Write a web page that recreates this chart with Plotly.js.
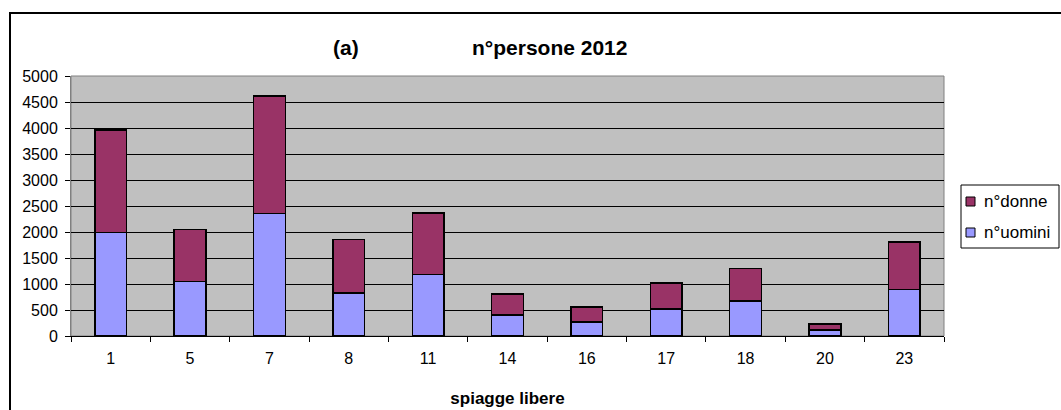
<!DOCTYPE html>
<html>
<head>
<meta charset="utf-8">
<script src="https://cdn.plot.ly/plotly-3.0.1.min.js"></script>
<style>
html,body{margin:0;padding:0;background:#fff;overflow:hidden;}
#chart{width:1061px;height:410px;}
#frame{position:absolute;left:9px;top:12px;width:1100px;height:500px;border:2px solid #000;pointer-events:none;}
</style>
</head>
<body>
<div id="chart"></div>
<div id="frame"></div>
<script>
const categories = ['1','5','7','8','11','14','16','17','18','20','23'];
const uomini = [1990, 1050, 2360, 830, 1180, 400, 270, 520, 670, 115, 890];
const donne  = [1970, 1000, 2260, 1030, 1190, 410, 290, 500, 630, 120, 920];
const seriesNames = ['n°uomini', 'n°donne'];
const seriesColors = ['#9999FF', '#993366'];
const titleLabel = '(a)';
const titleText = 'n°persone 2012';
const xTitle = 'spiagge libere';

const FONT = '"Liberation Sans", Arial, sans-serif';

const traces = [
  {type:'bar', name:seriesNames[0], x:categories, y:uomini,
   marker:{color:seriesColors[0], line:{color:'#000', width:1.5}}},
  {type:'bar', name:seriesNames[1], x:categories, y:donne,
   marker:{color:seriesColors[1], line:{color:'#000', width:1.5}}}
];

// legend drawn as a box (pixel positions converted to paper coordinates)
const L = 71, W = 873, B = 336, H = 260;
const px = v => (v - L) / W;
const py = v => (B - v) / H;
const legendItems = [
  {name:seriesNames[1], color:seriesColors[1], cy:201.5},
  {name:seriesNames[0], color:seriesColors[0], cy:232.5}
];
const shapes = [
  {type:'rect', xref:'paper', yref:'paper', x0:0, x1:1, y0:0, y1:1,
   line:{color:'#808080', width:1}, layer:'below'},
  {type:'rect', xref:'paper', yref:'paper', x0:px(961), x1:px(1059), y0:py(248), y1:py(185),
   line:{color:'#000', width:1}, fillcolor:'#fff'}
];
const annotations = [
  {text:'<b>'+titleLabel+'</b>', xref:'paper', yref:'paper', x:0.315, y:1.108,
   showarrow:false, xanchor:'center', yanchor:'middle', font:{family:FONT, size:21}},
  {text:'<b>'+titleText+'</b>', xref:'paper', yref:'paper', x:0.548, y:1.108,
   showarrow:false, xanchor:'center', yanchor:'middle', font:{family:FONT, size:21}}
];
legendItems.forEach(it => {
  shapes.push({type:'rect', xref:'paper', yref:'paper',
    x0:px(966), x1:px(975), y0:py(it.cy+4.5), y1:py(it.cy-4.5),
    line:{color:'#000', width:1}, fillcolor:it.color});
  annotations.push({text:it.name, xref:'paper', yref:'paper', x:px(982), y:py(it.cy),
    showarrow:false, xanchor:'left', yanchor:'middle',
    font:{family:FONT, size:17, color:'#000'}});
});

const layout = {
  width:1061, height:410,
  margin:{l:71, r:117, t:76, b:74, autoexpand:false},
  paper_bgcolor:'rgba(0,0,0,0)',
  plot_bgcolor:'#C0C0C0',
  barmode:'stack',
  bargap:0.6,
  font:{family:FONT, size:16, color:'#000'},
  showlegend:false,
  xaxis:{type:'category', tickson:'boundaries', ticks:'outside', ticklen:5,
    tickcolor:'#000', showline:true, linecolor:'#000', linewidth:1,
    showgrid:false, ticklabelstandoff:8,
    tickfont:{family:FONT, size:16},
    title:{text:'<b>'+xTitle+'</b>', font:{family:FONT, size:17}, standoff:25}},
  yaxis:{range:[0,5000], dtick:500, ticks:'outside', ticklen:5, tickcolor:'#000',
    showline:true, linecolor:'#808080', linewidth:1,
    showgrid:true, gridcolor:'#000', gridwidth:1, zeroline:false,
    ticklabelstandoff:4, tickfont:{family:FONT, size:16}},
  annotations:annotations,
  shapes:shapes
};

Plotly.newPlot('chart', traces, layout, {displayModeBar:false, staticPlot:true});
</script>
</body>
</html>
